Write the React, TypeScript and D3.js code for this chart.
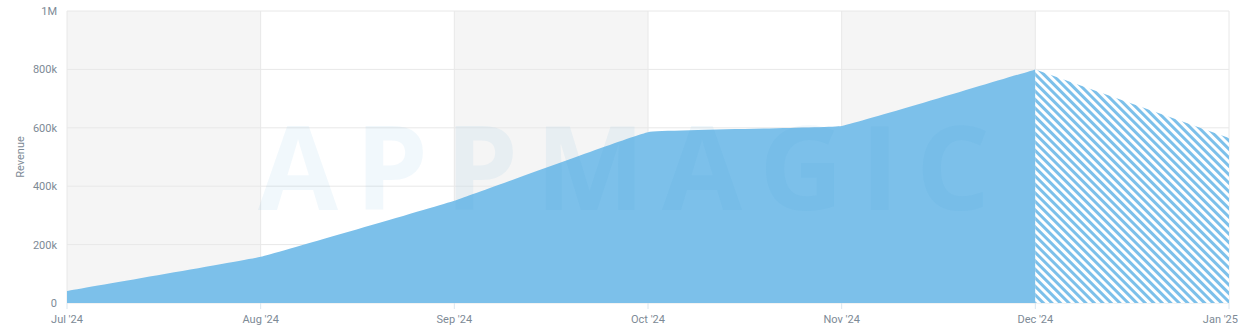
import React from "react";
import * as d3 from "d3";

const months = ["Jul '24", "Aug '24", "Sep '24", "Oct '24", "Nov '24", "Dec '24", "Jan '25"];
const revenue = [41000, 158000, 350000, 585000, 606000, 800000, 565000];
const forecastStart = 5; // Dec '24 onward is projected
const yTicks = [0, 200000, 400000, 600000, 800000, 1000000];
const yTickLabels = ["0", "200k", "400k", "600k", "800k", "1M"];

const W = 1240;
const H = 336;
const margin = { left: 67, right: 11, top: 11, bottom: 33 };

export default function App() {
  const x = d3.scalePoint<string>().domain(months).range([margin.left, W - margin.right]);
  const y = d3.scaleLinear().domain([0, 1000000]).range([H - margin.bottom, margin.top]);

  const data = months.map((m, i) => ({ m, v: revenue[i], i }));
  const area = d3
    .area<{ m: string; v: number; i: number }>()
    .x((d) => x(d.m)!)
    .y0(y(0))
    .y1((d) => y(d.v))
    .curve(d3.curveCardinal.tension(0.8));

  const actual = data.slice(0, forecastStart + 1);
  const projected = data.slice(forecastStart);

  const textColor = "#7d8a96";
  const fontFamily = "Roboto, 'Noto Sans', sans-serif";

  return (
    <svg width={W} height={H} style={{ position: "absolute", left: 0, top: 0 }} fontFamily={fontFamily}>
      <defs>
        <pattern id="hatch" patternUnits="userSpaceOnUse" width="6" height="6" patternTransform="rotate(-45)">
          <rect width="6" height="6" fill="#ffffff" />
          <rect width="3" height="6" fill="#7cc0ea" />
        </pattern>
      </defs>
      <rect x={0} y={0} width={W} height={H} fill="#ffffff" />
      {/* alternating bands */}
      {months.slice(0, -1).map((m, i) =>
        i % 2 === 0 ? (
          <rect
            key={"band" + i}
            x={x(m)!}
            y={margin.top}
            width={x(months[i + 1])! - x(m)!}
            height={y(0) - margin.top}
            fill="#f5f5f5"
          />
        ) : null
      )}
      {/* horizontal grid */}
      {yTicks.map((t) => (
        <line key={"hg" + t} x1={margin.left} x2={W - margin.right} y1={y(t)} y2={y(t)} stroke="#e8e8e8" strokeWidth={1} />
      ))}
      {/* vertical grid */}
      {months.map((m) => (
        <line key={"vg" + m} x1={x(m)!} x2={x(m)!} y1={margin.top} y2={y(0)} stroke="#e8e8e8" strokeWidth={1} />
      ))}
      {/* areas */}
      <path d={area(actual)!} fill="#7cc0ea" />
      <path d={area(projected)!} fill="url(#hatch)" />
      {/* watermark */}
      <text
        x={258}
        y={210}
        textLength={732}
        lengthAdjust="spacing"
        fontSize={116}
        fontWeight={700}
        fill="#3d9bd8"
        fillOpacity={0.07}
        fontFamily="'Open Sans', Roboto, sans-serif"
      >
        APPMAGIC
      </text>
      {/* x ticks */}
      {months.map((m, i) => (
        <g key={"xt" + m}>
          <line x1={x(m)!} x2={x(m)!} y1={y(0)} y2={y(0) + 6} stroke="#dbe6ee" />
          <text
            x={i === months.length - 1 ? W - 2 : x(m)!}
            y={y(0) + 20}
            textAnchor={i === months.length - 1 ? "end" : "middle"}
            fontSize={11}
            fill={textColor}
          >
            {m}
          </text>
        </g>
      ))}
      {/* y ticks */}
      {yTicks.map((t, i) => (
        <text key={"yt" + t} x={57} y={y(t) + 4} textAnchor="end" fontSize={11} fill={textColor}>
          {yTickLabels[i]}
        </text>
      ))}
      <text
        transform={`translate(24, ${(margin.top + y(0)) / 2}) rotate(-90)`}
        textAnchor="middle"
        fontSize={11}
        fill={textColor}
      >
        Revenue
      </text>
    </svg>
  );
}
